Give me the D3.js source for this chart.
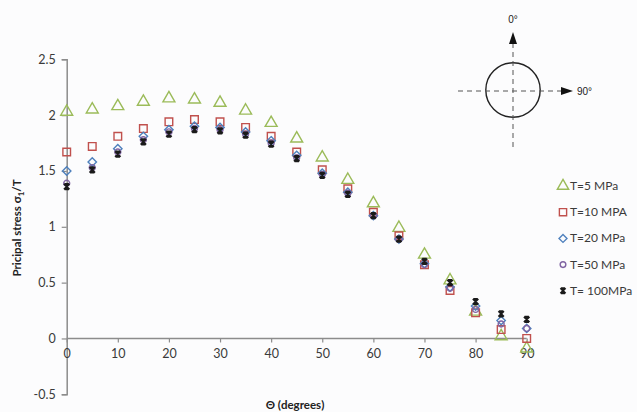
<!DOCTYPE html>
<html><head><meta charset="utf-8">
<script src="https://cdn.jsdelivr.net/npm/d3@7"></script>
<style>
html,body{margin:0;padding:0;background:#fcfcfd;}
svg{display:block;font-family:Lato,"Open Sans",sans-serif;}
</style></head>
<body><svg id="c" width="637" height="412"></svg>
<script>
const angles = [0,5,10,15,20,25,30,35,40,45,50,55,60,65,70,75,80,85,90];
const t5   = [2.03,2.05,2.08,2.12,2.15,2.14,2.11,2.04,1.93,1.79,1.62,1.42,1.21,0.99,0.75,0.52,0.24,0.02,-0.09];
const t10  = [1.67,1.72,1.81,1.88,1.94,1.96,1.94,1.89,1.81,1.67,1.51,1.34,1.13,0.92,0.66,0.43,0.23,0.08,0.00];
const t20  = [1.50,1.58,1.70,1.81,1.87,1.90,1.89,1.85,1.77,1.64,1.48,1.31,1.10,0.89,0.67,0.46,0.29,0.16,0.09];
const t50  = [1.39,1.53,1.67,1.78,1.85,1.88,1.87,1.83,1.75,1.62,1.47,1.30,1.10,0.89,0.66,0.45,0.26,0.13,0.09];
const t100 = [1.36,1.51,1.65,1.76,1.83,1.87,1.86,1.82,1.74,1.61,1.46,1.29,1.10,0.89,0.69,0.50,0.33,0.22,0.17];
const seriesNames = ["T=5 MPa","T=10 MPA","T=20 MPa","T=50 MPa","T= 100MPa"];
const xTicks = [0,10,20,30,40,50,60,70,80,90];
const yTicks = [-0.5,0,0.5,1,1.5,2,2.5];

// custom symbols
const wideDiamond = {draw(ctx,size){const r=Math.sqrt(size)/2*1.05;ctx.moveTo(0,-r);ctx.lineTo(r,0);ctx.lineTo(0,r);ctx.lineTo(-r,0);ctx.closePath();}};
const starMark = {draw(ctx,size){const r=Math.sqrt(size)/2;ctx.moveTo(-r,-r);ctx.lineTo(r,r);ctx.moveTo(r,-r);ctx.lineTo(-r,r);ctx.moveTo(0,-r);ctx.lineTo(0,r);ctx.moveTo(-r*0.8,-r);ctx.lineTo(r*0.8,-r);ctx.moveTo(-r*0.8,r);ctx.lineTo(r*0.8,r);}};

const series = [
  {name:seriesNames[0], values:t5,   sym:d3.symbolTriangle, size:62, color:"#9bbb59", sw:1.4},
  {name:seriesNames[1], values:t10,  sym:d3.symbolSquare,   size:58, color:"#c0504d", sw:1.4},
  {name:seriesNames[2], values:t20,  sym:wideDiamond,       size:64, color:"#4f81bd", sw:1.4},
  {name:seriesNames[3], values:t50,  sym:d3.symbolCircle,   size:28, color:"#8064a2", sw:1.4},
  {name:seriesNames[4], values:t100, sym:starMark,          size:30, color:"#1a1a1a", sw:1.8}
];

const svg = d3.select("#c");
const x = d3.scaleLinear().domain([0,90]).range([66.7,526.7]);
const y = d3.scaleLinear().domain([-0.5,2.5]).range([394.3,59.3]);
const axisColor = "#8c8c8c", textColor = "#3a3a3a";

const gy = svg.append("g").attr("transform",`translate(${x(0)},0)`)
  .call(d3.axisLeft(y).tickValues(yTicks).tickSize(5).tickPadding(6).tickFormat(d=>d));
gy.select(".domain").attr("stroke",axisColor).attr("stroke-width",1.5);
gy.selectAll(".tick line").attr("stroke",axisColor).attr("stroke-width",1.2);
gy.selectAll(".tick text").attr("fill",textColor).style("font-size","12.5px").style("font-family","Lato");

const gx = svg.append("g").attr("transform",`translate(0,${y(0)})`)
  .call(d3.axisBottom(x).tickValues(xTicks).tickSize(4).tickPadding(7).tickFormat(d=>d));
gx.select(".domain").attr("stroke",axisColor).attr("stroke-width",1.5).attr("d",`M${x(0)},0H${x(90)}`);
gx.selectAll(".tick line").attr("stroke",axisColor).attr("stroke-width",1.2);
gx.selectAll(".tick text").attr("fill",textColor).style("font-size","12.5px").style("font-family","Lato");

svg.append("text").attr("transform","translate(21,228) rotate(-90)")
  .attr("text-anchor","middle").attr("fill","#222").style("font-size","11.5px").style("font-weight","bold")
  .html('Pricipal stress σ<tspan dy="3" font-size="8px">1</tspan><tspan dy="-3">/T</tspan>');
svg.append("text").attr("x",295).attr("y",409).attr("text-anchor","middle")
  .attr("fill","#222").style("font-size","11.5px").style("font-weight","bold").text("Θ (degrees)");

series.forEach(s=>{
  const sym = d3.symbol().type(s.sym).size(s.size);
  svg.append("g").selectAll("path").data(s.values).join("path")
    .attr("transform",(d,i)=>`translate(${x(angles[i])},${y(d)})`)
    .attr("d",sym).attr("fill","none").attr("stroke",s.color)
    .attr("stroke-width", s.sw);
});

const lg = svg.append("g");
series.forEach((s,i)=>{
  const ly = 186 + i*26.2;
  lg.append("path").attr("transform",`translate(563,${ly})`)
    .attr("d",d3.symbol().type(s.sym).size(s.size*0.9)).attr("fill","none").attr("stroke",s.color)
    .attr("stroke-width", s.sw);
  lg.append("text").attr("x",570).attr("y",ly+4).attr("fill",textColor)
    .style("font-size","12px").text(s.name);
});

const cx = 513, cy = 90;
const cg = svg.append("g").attr("stroke","#222").attr("fill","none");
cg.append("circle").attr("cx",cx).attr("cy",cy).attr("r",27.2).attr("stroke-width",1.4);
cg.append("line").attr("x1",cx).attr("x2",cx).attr("y1",43).attr("y2",147)
  .attr("stroke-dasharray","5,4").attr("stroke-width",1).attr("stroke","#555");
cg.append("line").attr("x1",458).attr("x2",562).attr("y1",cy+1).attr("y2",cy+1)
  .attr("stroke-dasharray","5,4").attr("stroke-width",1).attr("stroke","#555");
svg.append("path").attr("d",`M${cx},32L${cx+4},44L${cx-4},44Z`).attr("fill","#111");
svg.append("path").attr("d",`M573,${cy+1}L561,${cy-3}L561,${cy+5}Z`).attr("fill","#111");
svg.append("text").attr("x",cx).attr("y",23).attr("text-anchor","middle").attr("fill","#222")
  .style("font-size","10px").style("font-family","Liberation Sans, Arial").text("0°");
svg.append("text").attr("x",577).attr("y",cy+5).attr("fill","#222")
  .style("font-size","10px").style("font-family","Liberation Sans, Arial").text("90°");
</script></body></html>
